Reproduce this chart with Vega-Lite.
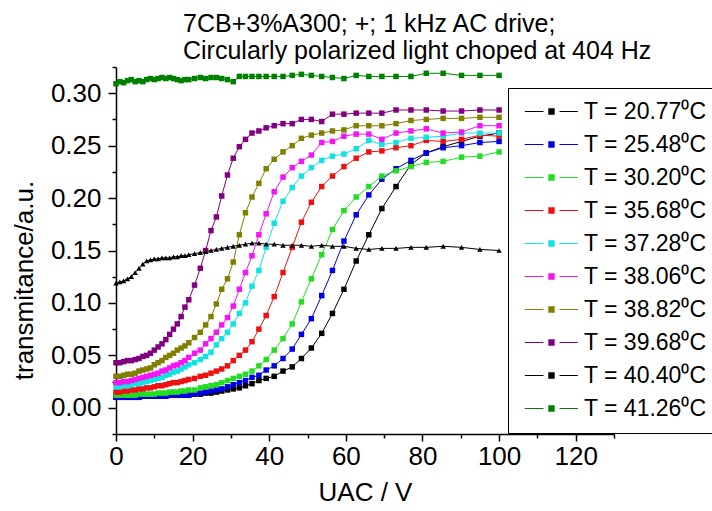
{
  "$schema": "https://vega.github.io/schema/vega-lite/v6.json",
  "autosize": {"type": "none"},
  "padding": {"left": 116, "top": 67, "right": 98, "bottom": 77},
  "width": 498,
  "height": 367,
  "background": "white",
  "config": {"view": {"stroke": null}, "font": "Liberation Sans", "point": {"shape": "triangle-up"}},
  "title": {
    "text": ["7CB+3%A300; +; 1 kHz AC drive;", "Circularly polarized light choped at 404 Hz"],
    "anchor": "start", "frame": "group", "dx": 67, "fontSize": 25, "fontWeight": "normal", "font": "Liberation Sans",
    "color": "black", "lineHeight": 27, "offset": -10
  },
  "data": {"values": [
    {"T":"20.77","U":0,"v":0.010},{"T":"20.77","U":1,"v":0.010},{"T":"20.77","U":2,"v":0.010},{"T":"20.77","U":3,"v":0.010},{"T":"20.77","U":4,"v":0.010},{"T":"20.77","U":5,"v":0.010},{"T":"20.77","U":6,"v":0.010},{"T":"20.77","U":7,"v":0.011},{"T":"20.77","U":8,"v":0.011},{"T":"20.77","U":9,"v":0.011},{"T":"20.77","U":10,"v":0.011},{"T":"20.77","U":11,"v":0.011},{"T":"20.77","U":12,"v":0.011},{"T":"20.77","U":13,"v":0.011},{"T":"20.77","U":14,"v":0.012},{"T":"20.77","U":15,"v":0.012},{"T":"20.77","U":16,"v":0.012},{"T":"20.77","U":17,"v":0.012},{"T":"20.77","U":18,"v":0.012},{"T":"20.77","U":19,"v":0.012},{"T":"20.77","U":20.5,"v":0.013},{"T":"20.77","U":22,"v":0.013},{"T":"20.77","U":23.4,"v":0.014},{"T":"20.77","U":24.8,"v":0.014},{"T":"20.77","U":26.2,"v":0.015},{"T":"20.77","U":27.6,"v":0.016},{"T":"20.77","U":29.1,"v":0.017},{"T":"20.77","U":30.6,"v":0.018},{"T":"20.77","U":32.2,"v":0.019},{"T":"20.77","U":33.8,"v":0.021},{"T":"20.77","U":35.5,"v":0.023},{"T":"20.77","U":37.3,"v":0.026},{"T":"20.77","U":39.2,"v":0.028},{"T":"20.77","U":41.3,"v":0.030},{"T":"20.77","U":43.6,"v":0.035},{"T":"20.77","U":46,"v":0.039},{"T":"20.77","U":48.4,"v":0.047},{"T":"20.77","U":51,"v":0.057},{"T":"20.77","U":53.7,"v":0.071},{"T":"20.77","U":56.5,"v":0.090},{"T":"20.77","U":59.5,"v":0.113},{"T":"20.77","U":62.7,"v":0.140},{"T":"20.77","U":66,"v":0.165},{"T":"20.77","U":69.4,"v":0.190},{"T":"20.77","U":73.1,"v":0.211},{"T":"20.77","U":77,"v":0.232},{"T":"20.77","U":81,"v":0.243},{"T":"20.77","U":85.4,"v":0.249},{"T":"20.77","U":90.2,"v":0.254},{"T":"20.77","U":95,"v":0.259},{"T":"20.77","U":100,"v":0.262},
    {"T":"25.48","U":0,"v":0.010},{"T":"25.48","U":1,"v":0.010},{"T":"25.48","U":2,"v":0.010},{"T":"25.48","U":3,"v":0.010},{"T":"25.48","U":4,"v":0.010},{"T":"25.48","U":5,"v":0.010},{"T":"25.48","U":6,"v":0.010},{"T":"25.48","U":7,"v":0.011},{"T":"25.48","U":8,"v":0.011},{"T":"25.48","U":9,"v":0.011},{"T":"25.48","U":10,"v":0.011},{"T":"25.48","U":11,"v":0.011},{"T":"25.48","U":12,"v":0.011},{"T":"25.48","U":13,"v":0.011},{"T":"25.48","U":14,"v":0.012},{"T":"25.48","U":15,"v":0.012},{"T":"25.48","U":16,"v":0.012},{"T":"25.48","U":17,"v":0.012},{"T":"25.48","U":18,"v":0.012},{"T":"25.48","U":19,"v":0.012},{"T":"25.48","U":20.5,"v":0.013},{"T":"25.48","U":22,"v":0.014},{"T":"25.48","U":23.4,"v":0.015},{"T":"25.48","U":24.8,"v":0.016},{"T":"25.48","U":26.2,"v":0.017},{"T":"25.48","U":27.6,"v":0.018},{"T":"25.48","U":29.1,"v":0.020},{"T":"25.48","U":30.6,"v":0.022},{"T":"25.48","U":32.2,"v":0.024},{"T":"25.48","U":33.8,"v":0.026},{"T":"25.48","U":35.5,"v":0.029},{"T":"25.48","U":37.3,"v":0.031},{"T":"25.48","U":39.2,"v":0.036},{"T":"25.48","U":41.3,"v":0.040},{"T":"25.48","U":43.6,"v":0.047},{"T":"25.48","U":46,"v":0.056},{"T":"25.48","U":48.4,"v":0.070},{"T":"25.48","U":51,"v":0.085},{"T":"25.48","U":53.7,"v":0.107},{"T":"25.48","U":56.5,"v":0.131},{"T":"25.48","U":59.5,"v":0.159},{"T":"25.48","U":62.7,"v":0.184},{"T":"25.48","U":66,"v":0.203},{"T":"25.48","U":69.4,"v":0.218},{"T":"25.48","U":73.1,"v":0.228},{"T":"25.48","U":77,"v":0.236},{"T":"25.48","U":81,"v":0.243},{"T":"25.48","U":85.4,"v":0.248},{"T":"25.48","U":90.2,"v":0.250},{"T":"25.48","U":95,"v":0.253},{"T":"25.48","U":100,"v":0.254},
    {"T":"30.20","U":0,"v":0.012},{"T":"30.20","U":1,"v":0.012},{"T":"30.20","U":2,"v":0.012},{"T":"30.20","U":3,"v":0.012},{"T":"30.20","U":4,"v":0.012},{"T":"30.20","U":5,"v":0.012},{"T":"30.20","U":6,"v":0.013},{"T":"30.20","U":7,"v":0.013},{"T":"30.20","U":8,"v":0.013},{"T":"30.20","U":9,"v":0.013},{"T":"30.20","U":10,"v":0.013},{"T":"30.20","U":11,"v":0.014},{"T":"30.20","U":12,"v":0.014},{"T":"30.20","U":13,"v":0.014},{"T":"30.20","U":14,"v":0.015},{"T":"30.20","U":15,"v":0.015},{"T":"30.20","U":16,"v":0.015},{"T":"30.20","U":17,"v":0.016},{"T":"30.20","U":18,"v":0.016},{"T":"30.20","U":19,"v":0.017},{"T":"30.20","U":20.5,"v":0.017},{"T":"30.20","U":22,"v":0.019},{"T":"30.20","U":23.4,"v":0.020},{"T":"30.20","U":24.8,"v":0.021},{"T":"30.20","U":26.2,"v":0.022},{"T":"30.20","U":27.6,"v":0.024},{"T":"30.20","U":29.1,"v":0.026},{"T":"30.20","U":30.6,"v":0.028},{"T":"30.20","U":32.2,"v":0.030},{"T":"30.20","U":33.8,"v":0.032},{"T":"30.20","U":35.5,"v":0.035},{"T":"30.20","U":37.3,"v":0.040},{"T":"30.20","U":39.2,"v":0.046},{"T":"30.20","U":41.3,"v":0.055},{"T":"30.20","U":43.6,"v":0.066},{"T":"30.20","U":46,"v":0.080},{"T":"30.20","U":48.4,"v":0.101},{"T":"30.20","U":51,"v":0.123},{"T":"30.20","U":53.7,"v":0.146},{"T":"30.20","U":56.5,"v":0.170},{"T":"30.20","U":59.5,"v":0.188},{"T":"30.20","U":62.7,"v":0.201},{"T":"30.20","U":66,"v":0.211},{"T":"30.20","U":69.4,"v":0.221},{"T":"30.20","U":73.1,"v":0.226},{"T":"30.20","U":77,"v":0.230},{"T":"30.20","U":81,"v":0.234},{"T":"30.20","U":85.4,"v":0.235},{"T":"30.20","U":90.2,"v":0.239},{"T":"30.20","U":95,"v":0.240},{"T":"30.20","U":100,"v":0.244},
    {"T":"35.68","U":0,"v":0.015},{"T":"35.68","U":1,"v":0.015},{"T":"35.68","U":2,"v":0.016},{"T":"35.68","U":3,"v":0.016},{"T":"35.68","U":4,"v":0.017},{"T":"35.68","U":5,"v":0.017},{"T":"35.68","U":6,"v":0.018},{"T":"35.68","U":7,"v":0.018},{"T":"35.68","U":8,"v":0.019},{"T":"35.68","U":9,"v":0.019},{"T":"35.68","U":10,"v":0.020},{"T":"35.68","U":11,"v":0.021},{"T":"35.68","U":12,"v":0.021},{"T":"35.68","U":13,"v":0.022},{"T":"35.68","U":14,"v":0.023},{"T":"35.68","U":15,"v":0.024},{"T":"35.68","U":16,"v":0.024},{"T":"35.68","U":17,"v":0.025},{"T":"35.68","U":18,"v":0.026},{"T":"35.68","U":19,"v":0.027},{"T":"35.68","U":20.5,"v":0.028},{"T":"35.68","U":22,"v":0.030},{"T":"35.68","U":23.4,"v":0.031},{"T":"35.68","U":24.8,"v":0.033},{"T":"35.68","U":26.2,"v":0.035},{"T":"35.68","U":27.6,"v":0.037},{"T":"35.68","U":29.1,"v":0.040},{"T":"35.68","U":30.6,"v":0.045},{"T":"35.68","U":32.2,"v":0.050},{"T":"35.68","U":33.8,"v":0.055},{"T":"35.68","U":35.5,"v":0.063},{"T":"35.68","U":37.3,"v":0.075},{"T":"35.68","U":39.2,"v":0.088},{"T":"35.68","U":41.3,"v":0.106},{"T":"35.68","U":43.6,"v":0.129},{"T":"35.68","U":46,"v":0.153},{"T":"35.68","U":48.4,"v":0.177},{"T":"35.68","U":51,"v":0.196},{"T":"35.68","U":53.7,"v":0.211},{"T":"35.68","U":56.5,"v":0.221},{"T":"35.68","U":59.5,"v":0.230},{"T":"35.68","U":62.7,"v":0.238},{"T":"35.68","U":66,"v":0.244},{"T":"35.68","U":69.4,"v":0.245},{"T":"35.68","U":73.1,"v":0.248},{"T":"35.68","U":77,"v":0.250},{"T":"35.68","U":81,"v":0.255},{"T":"35.68","U":85.4,"v":0.254},{"T":"35.68","U":90.2,"v":0.256},{"T":"35.68","U":95,"v":0.260},{"T":"35.68","U":100,"v":0.259},
    {"T":"37.28","U":0,"v":0.020},{"T":"37.28","U":1,"v":0.020},{"T":"37.28","U":2,"v":0.021},{"T":"37.28","U":3,"v":0.021},{"T":"37.28","U":4,"v":0.022},{"T":"37.28","U":5,"v":0.023},{"T":"37.28","U":6,"v":0.023},{"T":"37.28","U":7,"v":0.024},{"T":"37.28","U":8,"v":0.025},{"T":"37.28","U":9,"v":0.026},{"T":"37.28","U":10,"v":0.027},{"T":"37.28","U":11,"v":0.028},{"T":"37.28","U":12,"v":0.029},{"T":"37.28","U":13,"v":0.031},{"T":"37.28","U":14,"v":0.032},{"T":"37.28","U":15,"v":0.034},{"T":"37.28","U":16,"v":0.035},{"T":"37.28","U":17,"v":0.037},{"T":"37.28","U":18,"v":0.039},{"T":"37.28","U":19,"v":0.041},{"T":"37.28","U":20.5,"v":0.043},{"T":"37.28","U":22,"v":0.046},{"T":"37.28","U":23.4,"v":0.049},{"T":"37.28","U":24.8,"v":0.053},{"T":"37.28","U":26.2,"v":0.060},{"T":"37.28","U":27.6,"v":0.066},{"T":"37.28","U":29.1,"v":0.072},{"T":"37.28","U":30.6,"v":0.080},{"T":"37.28","U":32.2,"v":0.090},{"T":"37.28","U":33.8,"v":0.100},{"T":"37.28","U":35.5,"v":0.116},{"T":"37.28","U":37.3,"v":0.131},{"T":"37.28","U":39.2,"v":0.153},{"T":"37.28","U":41.3,"v":0.176},{"T":"37.28","U":43.6,"v":0.197},{"T":"37.28","U":46,"v":0.210},{"T":"37.28","U":48.4,"v":0.221},{"T":"37.28","U":51,"v":0.229},{"T":"37.28","U":53.7,"v":0.236},{"T":"37.28","U":56.5,"v":0.240},{"T":"37.28","U":59.5,"v":0.242},{"T":"37.28","U":62.7,"v":0.247},{"T":"37.28","U":66,"v":0.255},{"T":"37.28","U":69.4,"v":0.251},{"T":"37.28","U":73.1,"v":0.253},{"T":"37.28","U":77,"v":0.257},{"T":"37.28","U":81,"v":0.258},{"T":"37.28","U":85.4,"v":0.259},{"T":"37.28","U":90.2,"v":0.262},{"T":"37.28","U":95,"v":0.262},{"T":"37.28","U":100,"v":0.262},
    {"T":"38.06","U":0,"v":0.024},{"T":"38.06","U":1,"v":0.024},{"T":"38.06","U":2,"v":0.025},{"T":"38.06","U":3,"v":0.025},{"T":"38.06","U":4,"v":0.026},{"T":"38.06","U":5,"v":0.027},{"T":"38.06","U":6,"v":0.028},{"T":"38.06","U":7,"v":0.029},{"T":"38.06","U":8,"v":0.030},{"T":"38.06","U":9,"v":0.031},{"T":"38.06","U":10,"v":0.032},{"T":"38.06","U":11,"v":0.033},{"T":"38.06","U":12,"v":0.035},{"T":"38.06","U":13,"v":0.036},{"T":"38.06","U":14,"v":0.038},{"T":"38.06","U":15,"v":0.040},{"T":"38.06","U":16,"v":0.041},{"T":"38.06","U":17,"v":0.043},{"T":"38.06","U":18,"v":0.045},{"T":"38.06","U":19,"v":0.048},{"T":"38.06","U":20.5,"v":0.052},{"T":"38.06","U":22,"v":0.055},{"T":"38.06","U":23.4,"v":0.061},{"T":"38.06","U":24.8,"v":0.066},{"T":"38.06","U":26.2,"v":0.072},{"T":"38.06","U":27.6,"v":0.079},{"T":"38.06","U":29.1,"v":0.086},{"T":"38.06","U":30.6,"v":0.097},{"T":"38.06","U":32.2,"v":0.113},{"T":"38.06","U":33.8,"v":0.129},{"T":"38.06","U":35.5,"v":0.145},{"T":"38.06","U":37.3,"v":0.165},{"T":"38.06","U":39.2,"v":0.185},{"T":"38.06","U":41.3,"v":0.206},{"T":"38.06","U":43.6,"v":0.220},{"T":"38.06","U":46,"v":0.229},{"T":"38.06","U":48.4,"v":0.235},{"T":"38.06","U":51,"v":0.241},{"T":"38.06","U":53.7,"v":0.253},{"T":"38.06","U":56.5,"v":0.254},{"T":"38.06","U":59.5,"v":0.259},{"T":"38.06","U":62.7,"v":0.261},{"T":"38.06","U":66,"v":0.261},{"T":"38.06","U":69.4,"v":0.256},{"T":"38.06","U":73.1,"v":0.262},{"T":"38.06","U":77,"v":0.264},{"T":"38.06","U":81,"v":0.266},{"T":"38.06","U":85.4,"v":0.262},{"T":"38.06","U":90.2,"v":0.263},{"T":"38.06","U":95,"v":0.269},{"T":"38.06","U":100,"v":0.269},
    {"T":"38.82","U":0,"v":0.030},{"T":"38.82","U":1,"v":0.030},{"T":"38.82","U":2,"v":0.031},{"T":"38.82","U":3,"v":0.032},{"T":"38.82","U":4,"v":0.032},{"T":"38.82","U":5,"v":0.033},{"T":"38.82","U":6,"v":0.035},{"T":"38.82","U":7,"v":0.036},{"T":"38.82","U":8,"v":0.037},{"T":"38.82","U":9,"v":0.038},{"T":"38.82","U":10,"v":0.041},{"T":"38.82","U":11,"v":0.043},{"T":"38.82","U":12,"v":0.045},{"T":"38.82","U":13,"v":0.048},{"T":"38.82","U":14,"v":0.050},{"T":"38.82","U":15,"v":0.052},{"T":"38.82","U":16,"v":0.055},{"T":"38.82","U":17,"v":0.057},{"T":"38.82","U":18,"v":0.059},{"T":"38.82","U":19,"v":0.062},{"T":"38.82","U":20.5,"v":0.067},{"T":"38.82","U":22,"v":0.072},{"T":"38.82","U":23.4,"v":0.079},{"T":"38.82","U":24.8,"v":0.087},{"T":"38.82","U":26.2,"v":0.099},{"T":"38.82","U":27.6,"v":0.113},{"T":"38.82","U":29.1,"v":0.123},{"T":"38.82","U":30.6,"v":0.139},{"T":"38.82","U":32.2,"v":0.165},{"T":"38.82","U":33.8,"v":0.186},{"T":"38.82","U":35.5,"v":0.201},{"T":"38.82","U":37.3,"v":0.214},{"T":"38.82","U":39.2,"v":0.228},{"T":"38.82","U":41.3,"v":0.237},{"T":"38.82","U":43.6,"v":0.244},{"T":"38.82","U":46,"v":0.250},{"T":"38.82","U":48.4,"v":0.257},{"T":"38.82","U":51,"v":0.260},{"T":"38.82","U":53.7,"v":0.262},{"T":"38.82","U":56.5,"v":0.264},{"T":"38.82","U":59.5,"v":0.265},{"T":"38.82","U":62.7,"v":0.269},{"T":"38.82","U":66,"v":0.269},{"T":"38.82","U":69.4,"v":0.269},{"T":"38.82","U":73.1,"v":0.271},{"T":"38.82","U":77,"v":0.274},{"T":"38.82","U":81,"v":0.275},{"T":"38.82","U":85.4,"v":0.276},{"T":"38.82","U":90.2,"v":0.276},{"T":"38.82","U":95,"v":0.277},{"T":"38.82","U":100,"v":0.277},
    {"T":"39.68","U":0,"v":0.043},{"T":"39.68","U":1,"v":0.043},{"T":"39.68","U":2,"v":0.044},{"T":"39.68","U":3,"v":0.045},{"T":"39.68","U":4,"v":0.045},{"T":"39.68","U":5,"v":0.046},{"T":"39.68","U":6,"v":0.047},{"T":"39.68","U":7,"v":0.049},{"T":"39.68","U":8,"v":0.050},{"T":"39.68","U":9,"v":0.052},{"T":"39.68","U":10,"v":0.055},{"T":"39.68","U":11,"v":0.058},{"T":"39.68","U":12,"v":0.061},{"T":"39.68","U":13,"v":0.065},{"T":"39.68","U":14,"v":0.070},{"T":"39.68","U":15,"v":0.075},{"T":"39.68","U":16,"v":0.080},{"T":"39.68","U":17,"v":0.087},{"T":"39.68","U":18,"v":0.096},{"T":"39.68","U":19,"v":0.103},{"T":"39.68","U":20.5,"v":0.117},{"T":"39.68","U":22,"v":0.133},{"T":"39.68","U":23.4,"v":0.150},{"T":"39.68","U":24.8,"v":0.169},{"T":"39.68","U":26.2,"v":0.182},{"T":"39.68","U":27.6,"v":0.202},{"T":"39.68","U":29.1,"v":0.222},{"T":"39.68","U":30.6,"v":0.238},{"T":"39.68","U":32.2,"v":0.249},{"T":"39.68","U":33.8,"v":0.256},{"T":"39.68","U":35.5,"v":0.262},{"T":"39.68","U":37.3,"v":0.264},{"T":"39.68","U":39.2,"v":0.267},{"T":"39.68","U":41.3,"v":0.269},{"T":"39.68","U":43.6,"v":0.271},{"T":"39.68","U":46,"v":0.271},{"T":"39.68","U":48.4,"v":0.275},{"T":"39.68","U":51,"v":0.275},{"T":"39.68","U":53.7,"v":0.273},{"T":"39.68","U":56.5,"v":0.280},{"T":"39.68","U":59.5,"v":0.280},{"T":"39.68","U":62.7,"v":0.281},{"T":"39.68","U":66,"v":0.281},{"T":"39.68","U":69.4,"v":0.281},{"T":"39.68","U":73.1,"v":0.284},{"T":"39.68","U":77,"v":0.284},{"T":"39.68","U":81,"v":0.284},{"T":"39.68","U":85.4,"v":0.283},{"T":"39.68","U":90.2,"v":0.283},{"T":"39.68","U":95,"v":0.284},{"T":"39.68","U":100,"v":0.284},
    {"T":"40.40","U":0,"v":0.119},{"T":"40.40","U":1,"v":0.120},{"T":"40.40","U":2,"v":0.121},{"T":"40.40","U":3,"v":0.123},{"T":"40.40","U":4,"v":0.125},{"T":"40.40","U":5,"v":0.129},{"T":"40.40","U":6,"v":0.133},{"T":"40.40","U":7,"v":0.137},{"T":"40.40","U":8,"v":0.140},{"T":"40.40","U":9,"v":0.141},{"T":"40.40","U":10,"v":0.142},{"T":"40.40","U":11,"v":0.142},{"T":"40.40","U":12,"v":0.143},{"T":"40.40","U":13,"v":0.143},{"T":"40.40","U":14,"v":0.143},{"T":"40.40","U":15,"v":0.144},{"T":"40.40","U":16,"v":0.144},{"T":"40.40","U":17,"v":0.145},{"T":"40.40","U":18,"v":0.145},{"T":"40.40","U":19,"v":0.146},{"T":"40.40","U":20.5,"v":0.147},{"T":"40.40","U":22,"v":0.148},{"T":"40.40","U":23.4,"v":0.149},{"T":"40.40","U":24.8,"v":0.150},{"T":"40.40","U":26.2,"v":0.151},{"T":"40.40","U":27.6,"v":0.152},{"T":"40.40","U":29.1,"v":0.153},{"T":"40.40","U":30.6,"v":0.154},{"T":"40.40","U":32.2,"v":0.155},{"T":"40.40","U":33.8,"v":0.156},{"T":"40.40","U":35.5,"v":0.157},{"T":"40.40","U":37.3,"v":0.157},{"T":"40.40","U":39.2,"v":0.156},{"T":"40.40","U":41.3,"v":0.156},{"T":"40.40","U":43.6,"v":0.155},{"T":"40.40","U":46,"v":0.155},{"T":"40.40","U":48.4,"v":0.155},{"T":"40.40","U":51,"v":0.154},{"T":"40.40","U":53.7,"v":0.155},{"T":"40.40","U":56.5,"v":0.154},{"T":"40.40","U":59.5,"v":0.154},{"T":"40.40","U":62.7,"v":0.152},{"T":"40.40","U":66,"v":0.151},{"T":"40.40","U":69.4,"v":0.152},{"T":"40.40","U":73.1,"v":0.152},{"T":"40.40","U":77,"v":0.153},{"T":"40.40","U":81,"v":0.153},{"T":"40.40","U":85.4,"v":0.154},{"T":"40.40","U":90.2,"v":0.153},{"T":"40.40","U":95,"v":0.151},{"T":"40.40","U":100,"v":0.150},
    {"T":"41.26","U":0,"v":0.309},{"T":"41.26","U":1,"v":0.311},{"T":"41.26","U":2,"v":0.310},{"T":"41.26","U":3,"v":0.312},{"T":"41.26","U":4,"v":0.313},{"T":"41.26","U":5,"v":0.311},{"T":"41.26","U":6,"v":0.312},{"T":"41.26","U":7,"v":0.311},{"T":"41.26","U":8,"v":0.313},{"T":"41.26","U":9,"v":0.314},{"T":"41.26","U":10,"v":0.313},{"T":"41.26","U":11,"v":0.314},{"T":"41.26","U":12,"v":0.315},{"T":"41.26","U":13,"v":0.314},{"T":"41.26","U":14,"v":0.315},{"T":"41.26","U":15,"v":0.314},{"T":"41.26","U":16,"v":0.313},{"T":"41.26","U":17,"v":0.312},{"T":"41.26","U":18,"v":0.313},{"T":"41.26","U":19,"v":0.313},{"T":"41.26","U":20.5,"v":0.314},{"T":"41.26","U":22,"v":0.315},{"T":"41.26","U":23.4,"v":0.314},{"T":"41.26","U":24.8,"v":0.315},{"T":"41.26","U":26.2,"v":0.315},{"T":"41.26","U":27.6,"v":0.314},{"T":"41.26","U":29.1,"v":0.313},{"T":"41.26","U":30.6,"v":0.311},{"T":"41.26","U":32.2,"v":0.316},{"T":"41.26","U":33.8,"v":0.316},{"T":"41.26","U":35.5,"v":0.316},{"T":"41.26","U":37.3,"v":0.316},{"T":"41.26","U":39.2,"v":0.316},{"T":"41.26","U":41.3,"v":0.316},{"T":"41.26","U":43.6,"v":0.316},{"T":"41.26","U":46,"v":0.317},{"T":"41.26","U":48.4,"v":0.318},{"T":"41.26","U":51,"v":0.317},{"T":"41.26","U":53.7,"v":0.316},{"T":"41.26","U":56.5,"v":0.315},{"T":"41.26","U":59.5,"v":0.314},{"T":"41.26","U":62.7,"v":0.317},{"T":"41.26","U":66,"v":0.316},{"T":"41.26","U":69.4,"v":0.316},{"T":"41.26","U":73.1,"v":0.316},{"T":"41.26","U":77,"v":0.316},{"T":"41.26","U":81,"v":0.319},{"T":"41.26","U":85.4,"v":0.319},{"T":"41.26","U":90.2,"v":0.317},{"T":"41.26","U":95,"v":0.317},{"T":"41.26","U":100,"v":0.317}
  ]},
  "encoding": {
    "x": {
      "field": "U", "type": "quantitative",
      "scale": {"domain": [0, 130], "nice": false, "zero": false},
      "axis": {
        "values": [0,10,20,30,40,50,60,70,80,90,100,110,120,130],
        "labelExpr": "datum.value % 20 === 0 ? datum.label : ''",
        "format": "d",
        "grid": false,
        "domainColor": "black", "domainWidth": 1.5,
        "tickColor": "black", "tickWidth": 1.5,
        "tickSize": {"condition": {"test": "datum.value % 20 === 0", "value": 7}, "value": 4},
        "labelFontSize": 26, "labelColor": "black", "labelPadding": 2, "labelFont": "Liberation Sans",
        "labelFlush": false, "labelOverlap": false,
        "title": "UAC / V", "titleFontSize": 26, "titleFontWeight": "normal", "titleColor": "black",
        "titleFont": "Liberation Sans", "titleBaseline": "middle", "titleY": 58
      }
    },
    "y": {
      "field": "v", "type": "quantitative",
      "scale": {"domain": [-0.025, 0.325], "nice": false, "zero": false},
      "axis": {
        "values": [-0.025,0,0.025,0.05,0.075,0.1,0.125,0.15,0.175,0.2,0.225,0.25,0.275,0.3,0.325],
        "labelExpr": "abs(round(datum.value*1000)) % 50 === 0 ? datum.label : ''",
        "format": ".2f",
        "grid": false,
        "domainColor": "black", "domainWidth": 1.5,
        "tickColor": "black", "tickWidth": 1.5,
        "tickSize": {"condition": {"test": "abs(round(datum.value*1000)) % 50 === 0", "value": 8}, "value": 4},
        "labelFontSize": 26, "labelColor": "black", "labelPadding": 7, "labelFont": "Liberation Sans",
        "labelFlush": false, "labelOverlap": false,
        "title": "transmitance/a.u.", "titleFontSize": 26, "titleFontWeight": "normal", "titleColor": "black",
        "titleFont": "Liberation Sans", "titleBaseline": "middle", "titleX": -92, "titleY": 213
      }
    },
    "color": {
      "field": "T", "type": "nominal",
      "scale": {
        "domain": ["20.77","25.48","30.20","35.68","37.28","38.06","38.82","39.68","40.40","41.26"],
        "range": ["#000000","#0000e6","#22dd22","#ee1111","#11e3e3","#f414f4","#808000","#800080","#000000","#008000"]
      },
      "legend": {
        "orient": "none", "legendX": 392, "legendY": 21, "title": null,
        "labelFontSize": 23, "labelFont": "Liberation Sans", "labelColor": "black",
        "labelExpr": "'T = ' + datum.label + '⁰C'", "labelLimit": 0,
        "symbolType": "M-6.7,-0.13H-2V0.13H-6.7Z M2,-0.13H6.6V0.13H2Z M-0.8,-0.8H0.8V0.8H-0.8Z",
        "symbolStrokeWidth": 0,
        "symbolSize": 64, "symbolOffset": 20, "labelOffset": 21, "rowPadding": 9,
        "padding": 12, "strokeColor": "black", "fillColor": "white", "cornerRadius": 0
      }
    }
  },
  "layer": [
    {"mark": {"type": "line", "strokeWidth": 1}, "encoding": {}},
    {
      "transform": [{"filter": "datum.T !== '40.40'"}],
      "mark": {"type": "square", "filled": true, "size": 30, "opacity": 1},
      "encoding": {}
    },
    {
      "transform": [{"filter": "datum.T === '40.40'"}],
      "mark": {"type": "point", "filled": true, "size": 30, "opacity": 1},
      "encoding": {}
    }
  ]
}
